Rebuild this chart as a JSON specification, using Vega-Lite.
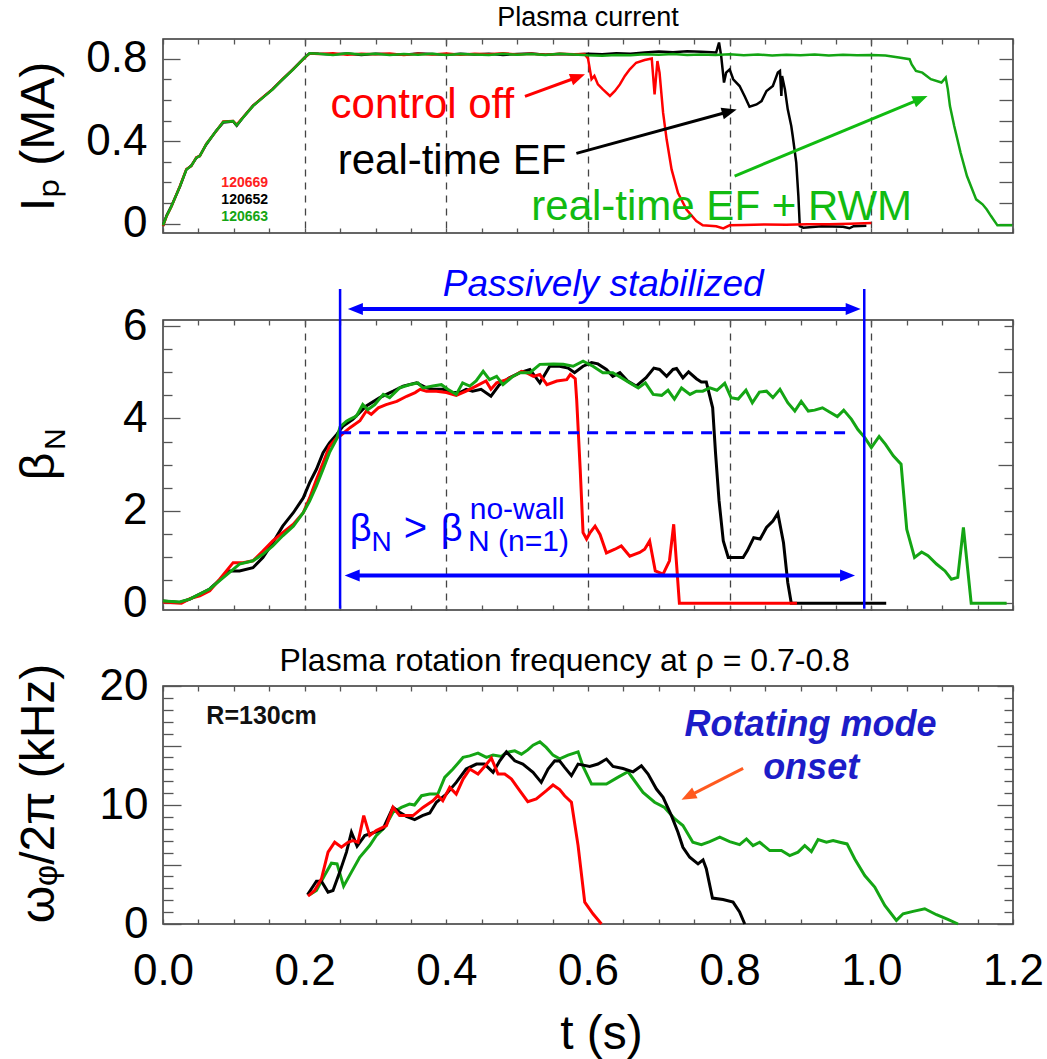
{
  "$schema": "https://vega.github.io/schema/vega-lite/v6.json",
  "autosize": {"type": "none"},
  "padding": {"left": 163, "top": 39, "right": 34, "bottom": 1020},
  "background": "white",
  "config": {
    "font": "Liberation Sans",
    "view": {"stroke": "#333333", "strokeWidth": 1.5},
    "axis": {"domain": false, "grid": false, "tickColor": "#555555", "tickWidth": 1.3, "labelColor": "#000000", "titleColor": "#000000", "titleFontWeight": "normal", "labelOverlap": false, "labelFlush": false, "labelBound": false, "labelFont": "Liberation Sans", "titleFont": "Liberation Sans"},
    "title": {"font": "Liberation Sans", "fontWeight": "normal", "color": "#000000"}
  },
  "datasets": {
    "ip": [
      {"shot": "120652", "t": 0, "ip": -0.01}, {"shot": "120652", "t": 0.005, "ip": 0.04}, {"shot": "120652", "t": 0.012, "ip": 0.087}, {"shot": "120652", "t": 0.024, "ip": 0.18}, {"shot": "120652", "t": 0.033, "ip": 0.262}, {"shot": "120652", "t": 0.04, "ip": 0.282}, {"shot": "120652", "t": 0.047, "ip": 0.318}, {"shot": "120652", "t": 0.052, "ip": 0.33}, {"shot": "120652", "t": 0.061, "ip": 0.383}, {"shot": "120652", "t": 0.075, "ip": 0.45}, {"shot": "120652", "t": 0.085, "ip": 0.49}, {"shot": "120652", "t": 0.099, "ip": 0.495}, {"shot": "120652", "t": 0.104, "ip": 0.475}, {"shot": "120652", "t": 0.113, "ip": 0.515}, {"shot": "120652", "t": 0.127, "ip": 0.572}, {"shot": "120652", "t": 0.141, "ip": 0.612}, {"shot": "120652", "t": 0.155, "ip": 0.653}, {"shot": "120652", "t": 0.169, "ip": 0.7}, {"shot": "120652", "t": 0.184, "ip": 0.75}, {"shot": "120652", "t": 0.2, "ip": 0.806}, {"shot": "120652", "t": 0.207, "ip": 0.826},
      {"shot": "120652", "t": 0.22, "ip": 0.823}, {"shot": "120652", "t": 0.24, "ip": 0.82}, {"shot": "120652", "t": 0.26, "ip": 0.825}, {"shot": "120652", "t": 0.28, "ip": 0.818}, {"shot": "120652", "t": 0.3, "ip": 0.824}, {"shot": "120652", "t": 0.32, "ip": 0.821}, {"shot": "120652", "t": 0.34, "ip": 0.819}, {"shot": "120652", "t": 0.36, "ip": 0.825}, {"shot": "120652", "t": 0.38, "ip": 0.822}, {"shot": "120652", "t": 0.4, "ip": 0.819}, {"shot": "120652", "t": 0.42, "ip": 0.824}, {"shot": "120652", "t": 0.44, "ip": 0.82}, {"shot": "120652", "t": 0.46, "ip": 0.823}, {"shot": "120652", "t": 0.48, "ip": 0.818}, {"shot": "120652", "t": 0.5, "ip": 0.822}, {"shot": "120652", "t": 0.52, "ip": 0.825}, {"shot": "120652", "t": 0.54, "ip": 0.819}, {"shot": "120652", "t": 0.56, "ip": 0.822}, {"shot": "120652", "t": 0.58, "ip": 0.82}, {"shot": "120652", "t": 0.6, "ip": 0.823}, {"shot": "120652", "t": 0.62, "ip": 0.821}, {"shot": "120652", "t": 0.64, "ip": 0.826}, {"shot": "120652", "t": 0.66, "ip": 0.824}, {"shot": "120652", "t": 0.68, "ip": 0.83}, {"shot": "120652", "t": 0.7, "ip": 0.834}, {"shot": "120652", "t": 0.72, "ip": 0.831}, {"shot": "120652", "t": 0.74, "ip": 0.836}, {"shot": "120652", "t": 0.76, "ip": 0.833}, {"shot": "120652", "t": 0.781, "ip": 0.83},
      {"shot": "120652", "t": 0.785, "ip": 0.878}, {"shot": "120652", "t": 0.788, "ip": 0.813}, {"shot": "120652", "t": 0.792, "ip": 0.684}, {"shot": "120652", "t": 0.795, "ip": 0.732}, {"shot": "120652", "t": 0.8, "ip": 0.748}, {"shot": "120652", "t": 0.805, "ip": 0.7}, {"shot": "120652", "t": 0.814, "ip": 0.667}, {"shot": "120652", "t": 0.821, "ip": 0.619}, {"shot": "120652", "t": 0.828, "ip": 0.567}, {"shot": "120652", "t": 0.838, "ip": 0.578}, {"shot": "120652", "t": 0.845, "ip": 0.594}, {"shot": "120652", "t": 0.852, "ip": 0.643}, {"shot": "120652", "t": 0.861, "ip": 0.667}, {"shot": "120652", "t": 0.868, "ip": 0.732}, {"shot": "120652", "t": 0.871, "ip": 0.74}, {"shot": "120652", "t": 0.873, "ip": 0.619}, {"shot": "120652", "t": 0.874, "ip": 0.716}, {"shot": "120652", "t": 0.878, "ip": 0.651}, {"shot": "120652", "t": 0.882, "ip": 0.554}, {"shot": "120652", "t": 0.887, "ip": 0.473}, {"shot": "120652", "t": 0.889, "ip": 0.425}, {"shot": "120652", "t": 0.894, "ip": 0.296}, {"shot": "120652", "t": 0.897, "ip": 0.134}, {"shot": "120652", "t": 0.899, "ip": -0.012}, {"shot": "120652", "t": 0.904, "ip": -0.019}, {"shot": "120652", "t": 0.93, "ip": -0.012}, {"shot": "120652", "t": 0.96, "ip": -0.015}, {"shot": "120652", "t": 0.969, "ip": -0.022}, {"shot": "120652", "t": 0.975, "ip": -0.012}, {"shot": "120652", "t": 0.993, "ip": -0.01},

      {"shot": "120669", "t": 0, "ip": -0.012}, {"shot": "120669", "t": 0.005, "ip": 0.035}, {"shot": "120669", "t": 0.012, "ip": 0.083}, {"shot": "120669", "t": 0.024, "ip": 0.184}, {"shot": "120669", "t": 0.033, "ip": 0.265}, {"shot": "120669", "t": 0.04, "ip": 0.279}, {"shot": "120669", "t": 0.047, "ip": 0.322}, {"shot": "120669", "t": 0.052, "ip": 0.327}, {"shot": "120669", "t": 0.061, "ip": 0.387}, {"shot": "120669", "t": 0.075, "ip": 0.448}, {"shot": "120669", "t": 0.085, "ip": 0.495}, {"shot": "120669", "t": 0.099, "ip": 0.498}, {"shot": "120669", "t": 0.104, "ip": 0.48}, {"shot": "120669", "t": 0.113, "ip": 0.516}, {"shot": "120669", "t": 0.127, "ip": 0.571}, {"shot": "120669", "t": 0.141, "ip": 0.613}, {"shot": "120669", "t": 0.155, "ip": 0.652}, {"shot": "120669", "t": 0.169, "ip": 0.702}, {"shot": "120669", "t": 0.184, "ip": 0.749}, {"shot": "120669", "t": 0.2, "ip": 0.804}, {"shot": "120669", "t": 0.207, "ip": 0.825},
      {"shot": "120669", "t": 0.22, "ip": 0.822}, {"shot": "120669", "t": 0.24, "ip": 0.826}, {"shot": "120669", "t": 0.26, "ip": 0.819}, {"shot": "120669", "t": 0.28, "ip": 0.824}, {"shot": "120669", "t": 0.3, "ip": 0.821}, {"shot": "120669", "t": 0.32, "ip": 0.825}, {"shot": "120669", "t": 0.34, "ip": 0.818}, {"shot": "120669", "t": 0.36, "ip": 0.823}, {"shot": "120669", "t": 0.38, "ip": 0.82}, {"shot": "120669", "t": 0.4, "ip": 0.825}, {"shot": "120669", "t": 0.42, "ip": 0.819}, {"shot": "120669", "t": 0.44, "ip": 0.823}, {"shot": "120669", "t": 0.46, "ip": 0.821}, {"shot": "120669", "t": 0.48, "ip": 0.826}, {"shot": "120669", "t": 0.5, "ip": 0.82}, {"shot": "120669", "t": 0.52, "ip": 0.823}, {"shot": "120669", "t": 0.54, "ip": 0.819}, {"shot": "120669", "t": 0.56, "ip": 0.824}, {"shot": "120669", "t": 0.58, "ip": 0.821}, {"shot": "120669", "t": 0.595, "ip": 0.822},
      {"shot": "120669", "t": 0.6, "ip": 0.8}, {"shot": "120669", "t": 0.605, "ip": 0.7}, {"shot": "120669", "t": 0.609, "ip": 0.716}, {"shot": "120669", "t": 0.614, "ip": 0.675}, {"shot": "120669", "t": 0.621, "ip": 0.651}, {"shot": "120669", "t": 0.631, "ip": 0.619}, {"shot": "120669", "t": 0.638, "ip": 0.643}, {"shot": "120669", "t": 0.645, "ip": 0.675}, {"shot": "120669", "t": 0.652, "ip": 0.716}, {"shot": "120669", "t": 0.659, "ip": 0.748}, {"shot": "120669", "t": 0.668, "ip": 0.78}, {"shot": "120669", "t": 0.68, "ip": 0.793}, {"shot": "120669", "t": 0.69, "ip": 0.8}, {"shot": "120669", "t": 0.694, "ip": 0.627}, {"shot": "120669", "t": 0.698, "ip": 0.788}, {"shot": "120669", "t": 0.701, "ip": 0.732}, {"shot": "120669", "t": 0.706, "ip": 0.538}, {"shot": "120669", "t": 0.711, "ip": 0.409}, {"shot": "120669", "t": 0.718, "ip": 0.263}, {"shot": "120669", "t": 0.727, "ip": 0.15}, {"shot": "120669", "t": 0.739, "ip": 0.069}, {"shot": "120669", "t": 0.753, "ip": 0.013}, {"shot": "120669", "t": 0.762, "ip": -0.008}, {"shot": "120669", "t": 0.781, "ip": -0.012}, {"shot": "120669", "t": 0.791, "ip": -0.023}, {"shot": "120669", "t": 0.8, "ip": -0.008}, {"shot": "120669", "t": 0.82, "ip": -0.006}, {"shot": "120669", "t": 0.85, "ip": -0.004}, {"shot": "120669", "t": 0.88, "ip": -0.005}, {"shot": "120669", "t": 0.91, "ip": -0.003}, {"shot": "120669", "t": 0.94, "ip": -0.002}, {"shot": "120669", "t": 0.97, "ip": 0}, {"shot": "120669", "t": 1.0, "ip": 0.003},

      {"shot": "120663", "t": 0, "ip": -0.008}, {"shot": "120663", "t": 0.005, "ip": 0.036}, {"shot": "120663", "t": 0.012, "ip": 0.085}, {"shot": "120663", "t": 0.024, "ip": 0.182}, {"shot": "120663", "t": 0.033, "ip": 0.263}, {"shot": "120663", "t": 0.04, "ip": 0.28}, {"shot": "120663", "t": 0.047, "ip": 0.32}, {"shot": "120663", "t": 0.052, "ip": 0.328}, {"shot": "120663", "t": 0.061, "ip": 0.385}, {"shot": "120663", "t": 0.075, "ip": 0.449}, {"shot": "120663", "t": 0.085, "ip": 0.493}, {"shot": "120663", "t": 0.099, "ip": 0.497}, {"shot": "120663", "t": 0.104, "ip": 0.477}, {"shot": "120663", "t": 0.113, "ip": 0.514}, {"shot": "120663", "t": 0.127, "ip": 0.57}, {"shot": "120663", "t": 0.141, "ip": 0.611}, {"shot": "120663", "t": 0.155, "ip": 0.651}, {"shot": "120663", "t": 0.169, "ip": 0.7}, {"shot": "120663", "t": 0.184, "ip": 0.748}, {"shot": "120663", "t": 0.2, "ip": 0.805}, {"shot": "120663", "t": 0.207, "ip": 0.826},
      {"shot": "120663", "t": 0.22, "ip": 0.824}, {"shot": "120663", "t": 0.24, "ip": 0.818}, {"shot": "120663", "t": 0.26, "ip": 0.826}, {"shot": "120663", "t": 0.28, "ip": 0.82}, {"shot": "120663", "t": 0.3, "ip": 0.823}, {"shot": "120663", "t": 0.32, "ip": 0.817}, {"shot": "120663", "t": 0.34, "ip": 0.822}, {"shot": "120663", "t": 0.36, "ip": 0.819}, {"shot": "120663", "t": 0.38, "ip": 0.824}, {"shot": "120663", "t": 0.4, "ip": 0.818}, {"shot": "120663", "t": 0.42, "ip": 0.822}, {"shot": "120663", "t": 0.44, "ip": 0.82}, {"shot": "120663", "t": 0.46, "ip": 0.817}, {"shot": "120663", "t": 0.48, "ip": 0.823}, {"shot": "120663", "t": 0.5, "ip": 0.819}, {"shot": "120663", "t": 0.52, "ip": 0.822}, {"shot": "120663", "t": 0.54, "ip": 0.818}, {"shot": "120663", "t": 0.56, "ip": 0.823}, {"shot": "120663", "t": 0.58, "ip": 0.82}, {"shot": "120663", "t": 0.6, "ip": 0.816}, {"shot": "120663", "t": 0.62, "ip": 0.814}, {"shot": "120663", "t": 0.64, "ip": 0.818}, {"shot": "120663", "t": 0.66, "ip": 0.816}, {"shot": "120663", "t": 0.68, "ip": 0.821}, {"shot": "120663", "t": 0.7, "ip": 0.819}, {"shot": "120663", "t": 0.72, "ip": 0.822}, {"shot": "120663", "t": 0.74, "ip": 0.818}, {"shot": "120663", "t": 0.76, "ip": 0.82}, {"shot": "120663", "t": 0.78, "ip": 0.817}, {"shot": "120663", "t": 0.8, "ip": 0.821}, {"shot": "120663", "t": 0.82, "ip": 0.816}, {"shot": "120663", "t": 0.84, "ip": 0.82}, {"shot": "120663", "t": 0.86, "ip": 0.815}, {"shot": "120663", "t": 0.88, "ip": 0.819}, {"shot": "120663", "t": 0.9, "ip": 0.816}, {"shot": "120663", "t": 0.92, "ip": 0.82}, {"shot": "120663", "t": 0.94, "ip": 0.815}, {"shot": "120663", "t": 0.96, "ip": 0.819}, {"shot": "120663", "t": 0.98, "ip": 0.816}, {"shot": "120663", "t": 1.0, "ip": 0.818}, {"shot": "120663", "t": 1.02, "ip": 0.815},
      {"shot": "120663", "t": 1.039, "ip": 0.805}, {"shot": "120663", "t": 1.054, "ip": 0.797}, {"shot": "120663", "t": 1.057, "ip": 0.772}, {"shot": "120663", "t": 1.063, "ip": 0.74}, {"shot": "120663", "t": 1.072, "ip": 0.732}, {"shot": "120663", "t": 1.084, "ip": 0.7}, {"shot": "120663", "t": 1.099, "ip": 0.684}, {"shot": "120663", "t": 1.105, "ip": 0.708}, {"shot": "120663", "t": 1.108, "ip": 0.651}, {"shot": "120663", "t": 1.111, "ip": 0.57}, {"shot": "120663", "t": 1.117, "ip": 0.473}, {"shot": "120663", "t": 1.126, "ip": 0.344}, {"shot": "120663", "t": 1.135, "ip": 0.231}, {"shot": "120663", "t": 1.148, "ip": 0.118}, {"shot": "120663", "t": 1.157, "ip": 0.094}, {"shot": "120663", "t": 1.163, "ip": 0.069}, {"shot": "120663", "t": 1.169, "ip": 0.037}, {"shot": "120663", "t": 1.178, "ip": -0.008}, {"shot": "120663", "t": 1.199, "ip": -0.008}
    ],
    "beta": [
      {"shot": "120652", "t": 0, "bn": 0.05}, {"shot": "120652", "t": 0.0235, "bn": 0.02}, {"shot": "120652", "t": 0.038, "bn": 0.09}, {"shot": "120652", "t": 0.066, "bn": 0.31}, {"shot": "120652", "t": 0.094, "bn": 0.7}, {"shot": "120652", "t": 0.108, "bn": 0.7}, {"shot": "120652", "t": 0.127, "bn": 0.77}, {"shot": "120652", "t": 0.141, "bn": 0.99}, {"shot": "120652", "t": 0.155, "bn": 1.31}, {"shot": "120652", "t": 0.169, "bn": 1.67}, {"shot": "120652", "t": 0.184, "bn": 1.96}, {"shot": "120652", "t": 0.198, "bn": 2.28}, {"shot": "120652", "t": 0.207, "bn": 2.61}, {"shot": "120652", "t": 0.2166, "bn": 2.9}, {"shot": "120652", "t": 0.226, "bn": 3.26}, {"shot": "120652", "t": 0.235, "bn": 3.47}, {"shot": "120652", "t": 0.245, "bn": 3.65}, {"shot": "120652", "t": 0.254, "bn": 3.83}, {"shot": "120652", "t": 0.268, "bn": 3.98}, {"shot": "120652", "t": 0.287, "bn": 4.27}, {"shot": "120652", "t": 0.306, "bn": 4.45}, {"shot": "120652", "t": 0.325, "bn": 4.59}, {"shot": "120652", "t": 0.339, "bn": 4.7}, {"shot": "120652", "t": 0.358, "bn": 4.77}, {"shot": "120652", "t": 0.372, "bn": 4.66}, {"shot": "120652", "t": 0.381, "bn": 4.63}, {"shot": "120652", "t": 0.395, "bn": 4.63}, {"shot": "120652", "t": 0.409, "bn": 4.56}, {"shot": "120652", "t": 0.419, "bn": 4.56}, {"shot": "120652", "t": 0.428, "bn": 4.63}, {"shot": "120652", "t": 0.437, "bn": 4.59}, {"shot": "120652", "t": 0.449, "bn": 4.63}, {"shot": "120652", "t": 0.463, "bn": 4.48}, {"shot": "120652", "t": 0.475, "bn": 4.73}, {"shot": "120652", "t": 0.489, "bn": 4.88}, {"shot": "120652", "t": 0.504, "bn": 4.99}, {"shot": "120652", "t": 0.518, "bn": 5.06}, {"shot": "120652", "t": 0.532, "bn": 4.77}, {"shot": "120652", "t": 0.546, "bn": 5.13}, {"shot": "120652", "t": 0.56, "bn": 5.13}, {"shot": "120652", "t": 0.572, "bn": 5.09}, {"shot": "120652", "t": 0.581, "bn": 4.99}, {"shot": "120652", "t": 0.593, "bn": 5.13}, {"shot": "120652", "t": 0.605, "bn": 5.21}, {"shot": "120652", "t": 0.614, "bn": 5.18}, {"shot": "120652", "t": 0.626, "bn": 5.06}, {"shot": "120652", "t": 0.635, "bn": 4.91}, {"shot": "120652", "t": 0.645, "bn": 4.99}, {"shot": "120652", "t": 0.656, "bn": 4.81}, {"shot": "120652", "t": 0.668, "bn": 4.7}, {"shot": "120652", "t": 0.682, "bn": 4.88}, {"shot": "120652", "t": 0.693, "bn": 5.09}, {"shot": "120652", "t": 0.701, "bn": 5.06}, {"shot": "120652", "t": 0.711, "bn": 4.91}, {"shot": "120652", "t": 0.72, "bn": 5.06}, {"shot": "120652", "t": 0.725, "bn": 5.08}, {"shot": "120652", "t": 0.734, "bn": 4.88}, {"shot": "120652", "t": 0.742, "bn": 5.01}, {"shot": "120652", "t": 0.753, "bn": 4.86}, {"shot": "120652", "t": 0.76, "bn": 4.79}, {"shot": "120652", "t": 0.767, "bn": 4.79}, {"shot": "120652", "t": 0.776, "bn": 4.23}, {"shot": "120652", "t": 0.78, "bn": 3.26}, {"shot": "120652", "t": 0.785, "bn": 2.22}, {"shot": "120652", "t": 0.791, "bn": 1.35}, {"shot": "120652", "t": 0.798, "bn": 0.99}, {"shot": "120652", "t": 0.813, "bn": 0.99}, {"shot": "120652", "t": 0.819, "bn": 0.99}, {"shot": "120652", "t": 0.825, "bn": 1.14}, {"shot": "120652", "t": 0.834, "bn": 1.42}, {"shot": "120652", "t": 0.843, "bn": 1.39}, {"shot": "120652", "t": 0.852, "bn": 1.64}, {"shot": "120652", "t": 0.861, "bn": 1.78}, {"shot": "120652", "t": 0.868, "bn": 1.95}, {"shot": "120652", "t": 0.876, "bn": 1.31}, {"shot": "120652", "t": 0.882, "bn": 0.45}, {"shot": "120652", "t": 0.887, "bn": 0}, {"shot": "120652", "t": 1.021, "bn": 0},

      {"shot": "120669", "t": 0, "bn": 0.03}, {"shot": "120669", "t": 0.026, "bn": 0}, {"shot": "120669", "t": 0.038, "bn": 0.1}, {"shot": "120669", "t": 0.052, "bn": 0.16}, {"shot": "120669", "t": 0.066, "bn": 0.27}, {"shot": "120669", "t": 0.08, "bn": 0.52}, {"shot": "120669", "t": 0.099, "bn": 0.88}, {"shot": "120669", "t": 0.113, "bn": 0.88}, {"shot": "120669", "t": 0.127, "bn": 0.92}, {"shot": "120669", "t": 0.141, "bn": 1.13}, {"shot": "120669", "t": 0.155, "bn": 1.35}, {"shot": "120669", "t": 0.169, "bn": 1.53}, {"shot": "120669", "t": 0.184, "bn": 1.71}, {"shot": "120669", "t": 0.198, "bn": 1.96}, {"shot": "120669", "t": 0.207, "bn": 2.28}, {"shot": "120669", "t": 0.2166, "bn": 2.68}, {"shot": "120669", "t": 0.226, "bn": 3.04}, {"shot": "120669", "t": 0.235, "bn": 3.4}, {"shot": "120669", "t": 0.245, "bn": 3.58}, {"shot": "120669", "t": 0.25, "bn": 3.62}, {"shot": "120669", "t": 0.264, "bn": 3.8}, {"shot": "120669", "t": 0.278, "bn": 3.95}, {"shot": "120669", "t": 0.287, "bn": 4.16}, {"shot": "120669", "t": 0.294, "bn": 4.09}, {"shot": "120669", "t": 0.304, "bn": 4.23}, {"shot": "120669", "t": 0.315, "bn": 4.3}, {"shot": "120669", "t": 0.33, "bn": 4.37}, {"shot": "120669", "t": 0.344, "bn": 4.48}, {"shot": "120669", "t": 0.356, "bn": 4.56}, {"shot": "120669", "t": 0.363, "bn": 4.63}, {"shot": "120669", "t": 0.372, "bn": 4.59}, {"shot": "120669", "t": 0.386, "bn": 4.59}, {"shot": "120669", "t": 0.4, "bn": 4.56}, {"shot": "120669", "t": 0.414, "bn": 4.5}, {"shot": "120669", "t": 0.428, "bn": 4.59}, {"shot": "120669", "t": 0.442, "bn": 4.7}, {"shot": "120669", "t": 0.456, "bn": 4.81}, {"shot": "120669", "t": 0.463, "bn": 4.63}, {"shot": "120669", "t": 0.471, "bn": 4.77}, {"shot": "120669", "t": 0.485, "bn": 4.84}, {"shot": "120669", "t": 0.499, "bn": 4.95}, {"shot": "120669", "t": 0.506, "bn": 5.02}, {"shot": "120669", "t": 0.513, "bn": 4.99}, {"shot": "120669", "t": 0.523, "bn": 4.91}, {"shot": "120669", "t": 0.532, "bn": 4.95}, {"shot": "120669", "t": 0.542, "bn": 4.73}, {"shot": "120669", "t": 0.556, "bn": 4.81}, {"shot": "120669", "t": 0.57, "bn": 4.84}, {"shot": "120669", "t": 0.575, "bn": 4.95}, {"shot": "120669", "t": 0.582, "bn": 4.86}, {"shot": "120669", "t": 0.584, "bn": 4.41}, {"shot": "120669", "t": 0.589, "bn": 2.9}, {"shot": "120669", "t": 0.593, "bn": 1.53}, {"shot": "120669", "t": 0.598, "bn": 1.39}, {"shot": "120669", "t": 0.603, "bn": 1.53}, {"shot": "120669", "t": 0.61, "bn": 1.67}, {"shot": "120669", "t": 0.617, "bn": 1.49}, {"shot": "120669", "t": 0.626, "bn": 1.09}, {"shot": "120669", "t": 0.638, "bn": 1.17}, {"shot": "120669", "t": 0.647, "bn": 1.24}, {"shot": "120669", "t": 0.659, "bn": 1.02}, {"shot": "120669", "t": 0.673, "bn": 1.1}, {"shot": "120669", "t": 0.68, "bn": 1.17}, {"shot": "120669", "t": 0.687, "bn": 1.35}, {"shot": "120669", "t": 0.695, "bn": 0.7}, {"shot": "120669", "t": 0.706, "bn": 0.63}, {"shot": "120669", "t": 0.715, "bn": 0.92}, {"shot": "120669", "t": 0.721, "bn": 1.71}, {"shot": "120669", "t": 0.729, "bn": 0}, {"shot": "120669", "t": 0.895, "bn": 0},

      {"shot": "120663", "t": 0, "bn": 0.05}, {"shot": "120663", "t": 0.0235, "bn": 0.03}, {"shot": "120663", "t": 0.0377, "bn": 0.09}, {"shot": "120663", "t": 0.0518, "bn": 0.2}, {"shot": "120663", "t": 0.066, "bn": 0.31}, {"shot": "120663", "t": 0.08, "bn": 0.49}, {"shot": "120663", "t": 0.094, "bn": 0.67}, {"shot": "120663", "t": 0.108, "bn": 0.85}, {"shot": "120663", "t": 0.127, "bn": 0.92}, {"shot": "120663", "t": 0.141, "bn": 1.06}, {"shot": "120663", "t": 0.155, "bn": 1.24}, {"shot": "120663", "t": 0.169, "bn": 1.46}, {"shot": "120663", "t": 0.184, "bn": 1.67}, {"shot": "120663", "t": 0.198, "bn": 1.96}, {"shot": "120663", "t": 0.207, "bn": 2.21}, {"shot": "120663", "t": 0.2166, "bn": 2.54}, {"shot": "120663", "t": 0.226, "bn": 2.9}, {"shot": "120663", "t": 0.235, "bn": 3.26}, {"shot": "120663", "t": 0.245, "bn": 3.55}, {"shot": "120663", "t": 0.25, "bn": 3.82}, {"shot": "120663", "t": 0.259, "bn": 3.94}, {"shot": "120663", "t": 0.2636, "bn": 3.98}, {"shot": "120663", "t": 0.273, "bn": 4.05}, {"shot": "120663", "t": 0.282, "bn": 4.3}, {"shot": "120663", "t": 0.289, "bn": 4.19}, {"shot": "120663", "t": 0.299, "bn": 4.3}, {"shot": "120663", "t": 0.311, "bn": 4.52}, {"shot": "120663", "t": 0.32, "bn": 4.45}, {"shot": "120663", "t": 0.334, "bn": 4.66}, {"shot": "120663", "t": 0.348, "bn": 4.73}, {"shot": "120663", "t": 0.36, "bn": 4.77}, {"shot": "120663", "t": 0.367, "bn": 4.66}, {"shot": "120663", "t": 0.381, "bn": 4.7}, {"shot": "120663", "t": 0.393, "bn": 4.73}, {"shot": "120663", "t": 0.402, "bn": 4.63}, {"shot": "120663", "t": 0.414, "bn": 4.52}, {"shot": "120663", "t": 0.423, "bn": 4.77}, {"shot": "120663", "t": 0.433, "bn": 4.7}, {"shot": "120663", "t": 0.442, "bn": 4.81}, {"shot": "120663", "t": 0.452, "bn": 5.02}, {"shot": "120663", "t": 0.461, "bn": 4.84}, {"shot": "120663", "t": 0.471, "bn": 4.91}, {"shot": "120663", "t": 0.48, "bn": 4.73}, {"shot": "120663", "t": 0.494, "bn": 4.91}, {"shot": "120663", "t": 0.504, "bn": 4.99}, {"shot": "120663", "t": 0.518, "bn": 4.99}, {"shot": "120663", "t": 0.532, "bn": 5.17}, {"shot": "120663", "t": 0.551, "bn": 5.18}, {"shot": "120663", "t": 0.565, "bn": 5.17}, {"shot": "120663", "t": 0.579, "bn": 5.13}, {"shot": "120663", "t": 0.593, "bn": 5.24}, {"shot": "120663", "t": 0.607, "bn": 5.13}, {"shot": "120663", "t": 0.621, "bn": 4.99}, {"shot": "120663", "t": 0.635, "bn": 4.99}, {"shot": "120663", "t": 0.647, "bn": 4.88}, {"shot": "120663", "t": 0.659, "bn": 4.77}, {"shot": "120663", "t": 0.671, "bn": 4.66}, {"shot": "120663", "t": 0.681, "bn": 4.77}, {"shot": "120663", "t": 0.692, "bn": 4.52}, {"shot": "120663", "t": 0.704, "bn": 4.5}, {"shot": "120663", "t": 0.713, "bn": 4.61}, {"shot": "120663", "t": 0.722, "bn": 4.42}, {"shot": "120663", "t": 0.732, "bn": 4.66}, {"shot": "120663", "t": 0.744, "bn": 4.52}, {"shot": "120663", "t": 0.753, "bn": 4.59}, {"shot": "120663", "t": 0.762, "bn": 4.59}, {"shot": "120663", "t": 0.772, "bn": 4.66}, {"shot": "120663", "t": 0.782, "bn": 4.61}, {"shot": "120663", "t": 0.793, "bn": 4.76}, {"shot": "120663", "t": 0.802, "bn": 4.45}, {"shot": "120663", "t": 0.812, "bn": 4.42}, {"shot": "120663", "t": 0.823, "bn": 4.61}, {"shot": "120663", "t": 0.832, "bn": 4.34}, {"shot": "120663", "t": 0.842, "bn": 4.57}, {"shot": "120663", "t": 0.852, "bn": 4.59}, {"shot": "120663", "t": 0.861, "bn": 4.45}, {"shot": "120663", "t": 0.871, "bn": 4.63}, {"shot": "120663", "t": 0.882, "bn": 4.34}, {"shot": "120663", "t": 0.892, "bn": 4.16}, {"shot": "120663", "t": 0.901, "bn": 4.37}, {"shot": "120663", "t": 0.911, "bn": 4.16}, {"shot": "120663", "t": 0.92, "bn": 4.18}, {"shot": "120663", "t": 0.931, "bn": 4.23}, {"shot": "120663", "t": 0.941, "bn": 4.14}, {"shot": "120663", "t": 0.952, "bn": 4.04}, {"shot": "120663", "t": 0.961, "bn": 4.18}, {"shot": "120663", "t": 0.972, "bn": 3.98}, {"shot": "120663", "t": 0.981, "bn": 3.76}, {"shot": "120663", "t": 0.991, "bn": 3.58}, {"shot": "120663", "t": 1.0, "bn": 3.37}, {"shot": "120663", "t": 1.011, "bn": 3.61}, {"shot": "120663", "t": 1.02, "bn": 3.44}, {"shot": "120663", "t": 1.031, "bn": 3.19}, {"shot": "120663", "t": 1.042, "bn": 3.01}, {"shot": "120663", "t": 1.05, "bn": 1.6}, {"shot": "120663", "t": 1.061, "bn": 0.99}, {"shot": "120663", "t": 1.071, "bn": 1.11}, {"shot": "120663", "t": 1.08, "bn": 1.03}, {"shot": "120663", "t": 1.092, "bn": 0.85}, {"shot": "120663", "t": 1.104, "bn": 0.7}, {"shot": "120663", "t": 1.113, "bn": 0.52}, {"shot": "120663", "t": 1.122, "bn": 0.56}, {"shot": "120663", "t": 1.13, "bn": 1.64}, {"shot": "120663", "t": 1.141, "bn": 0}, {"shot": "120663", "t": 1.191, "bn": 0}
    ],
    "freq": [
      {"shot": "120663", "t": 0.207, "f": 2.46}, {"shot": "120663", "t": 0.2166, "f": 2.82}, {"shot": "120663", "t": 0.228, "f": 4.07}, {"shot": "120663", "t": 0.2378, "f": 5.11}, {"shot": "120663", "t": 0.2457, "f": 5.05}, {"shot": "120663", "t": 0.255, "f": 3.18}, {"shot": "120663", "t": 0.266, "f": 4.36}, {"shot": "120663", "t": 0.2777, "f": 5.61}, {"shot": "120663", "t": 0.2918, "f": 6.59}, {"shot": "120663", "t": 0.301, "f": 7.43}, {"shot": "120663", "t": 0.313, "f": 8.13}, {"shot": "120663", "t": 0.3247, "f": 9.39}, {"shot": "120663", "t": 0.3366, "f": 9.8}, {"shot": "120663", "t": 0.348, "f": 10.08}, {"shot": "120663", "t": 0.355, "f": 10.0}, {"shot": "120663", "t": 0.365, "f": 10.78}, {"shot": "120663", "t": 0.3766, "f": 10.92}, {"shot": "120663", "t": 0.388, "f": 10.92}, {"shot": "120663", "t": 0.3977, "f": 12.32}, {"shot": "120663", "t": 0.4094, "f": 13.02}, {"shot": "120663", "t": 0.4236, "f": 14.0}, {"shot": "120663", "t": 0.433, "f": 14.13}, {"shot": "120663", "t": 0.4447, "f": 14.36}, {"shot": "120663", "t": 0.4566, "f": 14.0}, {"shot": "120663", "t": 0.466, "f": 14.19}, {"shot": "120663", "t": 0.4778, "f": 14.08}, {"shot": "120663", "t": 0.4848, "f": 14.42}, {"shot": "120663", "t": 0.4966, "f": 14.55}, {"shot": "120663", "t": 0.506, "f": 14.27}, {"shot": "120663", "t": 0.515, "f": 14.63}, {"shot": "120663", "t": 0.5224, "f": 15.03}, {"shot": "120663", "t": 0.532, "f": 15.31}, {"shot": "120663", "t": 0.541, "f": 14.84}, {"shot": "120663", "t": 0.5506, "f": 14.19}, {"shot": "120663", "t": 0.56, "f": 13.88}, {"shot": "120663", "t": 0.5718, "f": 14.19}, {"shot": "120663", "t": 0.586, "f": 14.47}, {"shot": "120663", "t": 0.593, "f": 13.24}, {"shot": "120663", "t": 0.605, "f": 11.76}, {"shot": "120663", "t": 0.626, "f": 11.76}, {"shot": "120663", "t": 0.642, "f": 12.32}, {"shot": "120663", "t": 0.6565, "f": 12.79}, {"shot": "120663", "t": 0.6777, "f": 11.06}, {"shot": "120663", "t": 0.694, "f": 10.23}, {"shot": "120663", "t": 0.708, "f": 9.8}, {"shot": "120663", "t": 0.7225, "f": 8.83}, {"shot": "120663", "t": 0.734, "f": 8.27}, {"shot": "120663", "t": 0.748, "f": 6.87}, {"shot": "120663", "t": 0.76, "f": 6.67}, {"shot": "120663", "t": 0.7719, "f": 6.92}, {"shot": "120663", "t": 0.786, "f": 7.29}, {"shot": "120663", "t": 0.8, "f": 6.92}, {"shot": "120663", "t": 0.814, "f": 6.67}, {"shot": "120663", "t": 0.8237, "f": 7.15}, {"shot": "120663", "t": 0.833, "f": 6.59}, {"shot": "120663", "t": 0.8424, "f": 6.87}, {"shot": "120663", "t": 0.8566, "f": 6.17}, {"shot": "120663", "t": 0.873, "f": 6.17}, {"shot": "120663", "t": 0.8848, "f": 5.75}, {"shot": "120663", "t": 0.8965, "f": 6.04}, {"shot": "120663", "t": 0.906, "f": 6.59}, {"shot": "120663", "t": 0.9154, "f": 6.09}, {"shot": "120663", "t": 0.9248, "f": 7.09}, {"shot": "120663", "t": 0.9366, "f": 6.87}, {"shot": "120663", "t": 0.946, "f": 7.01}, {"shot": "120663", "t": 0.9554, "f": 6.87}, {"shot": "120663", "t": 0.9657, "f": 6.73}, {"shot": "120663", "t": 0.9766, "f": 5.47}, {"shot": "120663", "t": 0.9907, "f": 4.07}, {"shot": "120663", "t": 1.0048, "f": 3.1}, {"shot": "120663", "t": 1.019, "f": 1.56}, {"shot": "120663", "t": 1.0354, "f": 0.3}, {"shot": "120663", "t": 1.0448, "f": 0.86}, {"shot": "120663", "t": 1.059, "f": 1.06}, {"shot": "120663", "t": 1.0754, "f": 1.28}, {"shot": "120663", "t": 1.092, "f": 0.78}, {"shot": "120663", "t": 1.108, "f": 0.39}, {"shot": "120663", "t": 1.1224, "f": 0},

      {"shot": "120652", "t": 0.204, "f": 2.46}, {"shot": "120652", "t": 0.2166, "f": 3.6}, {"shot": "120652", "t": 0.2237, "f": 3.6}, {"shot": "120652", "t": 0.233, "f": 2.68}, {"shot": "120652", "t": 0.24, "f": 2.82}, {"shot": "120652", "t": 0.2495, "f": 4.36}, {"shot": "120652", "t": 0.259, "f": 6.04}, {"shot": "120652", "t": 0.266, "f": 7.71}, {"shot": "120652", "t": 0.274, "f": 6.54}, {"shot": "120652", "t": 0.2848, "f": 7.43}, {"shot": "120652", "t": 0.2989, "f": 7.71}, {"shot": "120652", "t": 0.3106, "f": 7.99}, {"shot": "120652", "t": 0.3247, "f": 9.8}, {"shot": "120652", "t": 0.334, "f": 9.39}, {"shot": "120652", "t": 0.3436, "f": 9.05}, {"shot": "120652", "t": 0.3553, "f": 8.77}, {"shot": "120652", "t": 0.3662, "f": 9.11}, {"shot": "120652", "t": 0.3766, "f": 9.33}, {"shot": "120652", "t": 0.386, "f": 10.23}, {"shot": "120652", "t": 0.4, "f": 10.92}, {"shot": "120652", "t": 0.414, "f": 11.9}, {"shot": "120652", "t": 0.428, "f": 13.02}, {"shot": "120652", "t": 0.4425, "f": 13.44}, {"shot": "120652", "t": 0.454, "f": 13.44}, {"shot": "120652", "t": 0.466, "f": 12.74}, {"shot": "120652", "t": 0.4754, "f": 13.71}, {"shot": "120652", "t": 0.4848, "f": 14.47}, {"shot": "120652", "t": 0.4966, "f": 13.71}, {"shot": "120652", "t": 0.508, "f": 13.44}, {"shot": "120652", "t": 0.5224, "f": 12.74}, {"shot": "120652", "t": 0.534, "f": 11.9}, {"shot": "120652", "t": 0.5436, "f": 13.02}, {"shot": "120652", "t": 0.553, "f": 13.71}, {"shot": "120652", "t": 0.56, "f": 13.7}, {"shot": "120652", "t": 0.567, "f": 13.16}, {"shot": "120652", "t": 0.5766, "f": 12.46}, {"shot": "120652", "t": 0.586, "f": 13.44}, {"shot": "120652", "t": 0.6024, "f": 13.24}, {"shot": "120652", "t": 0.614, "f": 13.44}, {"shot": "120652", "t": 0.626, "f": 13.86}, {"shot": "120652", "t": 0.6353, "f": 13.24}, {"shot": "120652", "t": 0.6494, "f": 13.07}, {"shot": "120652", "t": 0.6636, "f": 12.79}, {"shot": "120652", "t": 0.6754, "f": 13.3}, {"shot": "120652", "t": 0.6848, "f": 12.6}, {"shot": "120652", "t": 0.6966, "f": 11.34}, {"shot": "120652", "t": 0.706, "f": 10.64}, {"shot": "120652", "t": 0.7178, "f": 9.11}, {"shot": "120652", "t": 0.727, "f": 7.71}, {"shot": "120652", "t": 0.734, "f": 6.45}, {"shot": "120652", "t": 0.7436, "f": 5.61}, {"shot": "120652", "t": 0.7553, "f": 5.05}, {"shot": "120652", "t": 0.7624, "f": 5.39}, {"shot": "120652", "t": 0.767, "f": 4.64}, {"shot": "120652", "t": 0.7757, "f": 2.18}, {"shot": "120652", "t": 0.7906, "f": 2.06}, {"shot": "120652", "t": 0.8048, "f": 1.84}, {"shot": "120652", "t": 0.814, "f": 1.01}, {"shot": "120652", "t": 0.8213, "f": 0},

      {"shot": "120669", "t": 0.2047, "f": 2.35}, {"shot": "120669", "t": 0.214, "f": 2.82}, {"shot": "120669", "t": 0.2237, "f": 3.8}, {"shot": "120669", "t": 0.233, "f": 6.04}, {"shot": "120669", "t": 0.2424, "f": 6.87}, {"shot": "120669", "t": 0.2519, "f": 6.45}, {"shot": "120669", "t": 0.2612, "f": 6.87}, {"shot": "120669", "t": 0.268, "f": 7.01}, {"shot": "120669", "t": 0.2753, "f": 6.87}, {"shot": "120669", "t": 0.2834, "f": 9.11}, {"shot": "120669", "t": 0.2918, "f": 7.43}, {"shot": "120669", "t": 0.301, "f": 7.85}, {"shot": "120669", "t": 0.3154, "f": 8.27}, {"shot": "120669", "t": 0.3247, "f": 9.8}, {"shot": "120669", "t": 0.334, "f": 9.11}, {"shot": "120669", "t": 0.353, "f": 9.11}, {"shot": "120669", "t": 0.367, "f": 9.8}, {"shot": "120669", "t": 0.381, "f": 10.36}, {"shot": "120669", "t": 0.388, "f": 10.78}, {"shot": "120669", "t": 0.395, "f": 10.36}, {"shot": "120669", "t": 0.4048, "f": 11.48}, {"shot": "120669", "t": 0.414, "f": 10.92}, {"shot": "120669", "t": 0.4236, "f": 12.18}, {"shot": "120669", "t": 0.433, "f": 13.02}, {"shot": "120669", "t": 0.4447, "f": 12.6}, {"shot": "120669", "t": 0.454, "f": 13.24}, {"shot": "120669", "t": 0.4636, "f": 13.94}, {"shot": "120669", "t": 0.473, "f": 12.6}, {"shot": "120669", "t": 0.4824, "f": 12.6}, {"shot": "120669", "t": 0.492, "f": 12.18}, {"shot": "120669", "t": 0.5036, "f": 11.2}, {"shot": "120669", "t": 0.515, "f": 10.28}, {"shot": "120669", "t": 0.527, "f": 10.51}, {"shot": "120669", "t": 0.5413, "f": 11.2}, {"shot": "120669", "t": 0.5506, "f": 11.68}, {"shot": "120669", "t": 0.56, "f": 11.3}, {"shot": "120669", "t": 0.567, "f": 10.78}, {"shot": "120669", "t": 0.5766, "f": 10.23}, {"shot": "120669", "t": 0.586, "f": 6.59}, {"shot": "120669", "t": 0.5954, "f": 1.84}, {"shot": "120669", "t": 0.607, "f": 0.86}, {"shot": "120669", "t": 0.619, "f": 0}
    ]
  },
  "bounds": "flush",
  "spacing": 87,
  "vconcat": [
    {
      "width": 850,
      "height": 194,
      "title": {"text": "Plasma current", "fontSize": 27, "offset": 5},
      "resolve": {"axis": {"x": "independent", "y": "independent"}},
      "layer": [
        {
          "data": {"name": "ip"},
          "transform": [{"filter": "datum.shot === '120652'"}],
          "mark": {"type": "line", "color": "#000000", "strokeWidth": 2.5},
          "encoding": {
            "x": {"field": "t", "type": "quantitative", "scale": {"domain": [0, 1.2], "nice": false, "zero": false},
              "axis": {"orient": "bottom", "values": [0, 0.05, 0.1, 0.15, 0.2, 0.25, 0.3, 0.35, 0.4, 0.45, 0.5, 0.55, 0.6, 0.65, 0.7, 0.75, 0.8, 0.85, 0.9, 0.95, 1, 1.05, 1.1, 1.15, 1.2], "labels": false, "title": null, "tickSize": -5,
                "grid": true, "gridDash": [7, 6], "gridColor": "#444444", "gridWidth": 1.3,
                "gridOpacity": {"condition": {"test": "datum.value > 0.1 && datum.value < 1.1 && abs(datum.value * 5 - round(datum.value * 5)) < 0.001", "value": 1}, "value": 0}}},
            "y": {"field": "ip", "type": "quantitative", "scale": {"domain": [-0.045, 0.895], "nice": false, "zero": false},
              "axis": {"orient": "left", "values": [0, 0.1, 0.2, 0.3, 0.4, 0.5, 0.6, 0.7, 0.8],
                "labelExpr": "datum.value == 0 ? '0' : (datum.value == 0.4 || datum.value == 0.8) ? format(datum.value, '.1f') : ''",
                "tickSize": {"condition": {"test": "datum.value == 0 || datum.value == 0.4 || datum.value == 0.8", "value": -17}, "value": -8},
                "labelFontSize": 44, "labelPadding": 33,
                "title": "Iₚ (MA)", "titleFontSize": 48, "titleAngle": 270, "titleX": -110, "titleY": 97, "titleBaseline": "alphabetic", "titleAlign": "center"}}
          }
        },
        {
          "data": {"name": "ip"},
          "transform": [{"filter": "datum.shot === '120669'"}],
          "mark": {"type": "line", "color": "#FF0000", "strokeWidth": 2.5},
          "encoding": {
            "x": {"field": "t", "type": "quantitative", "scale": {"domain": [0, 1.2], "nice": false, "zero": false},
              "axis": {"orient": "top", "values": [0, 0.05, 0.1, 0.15, 0.2, 0.25, 0.3, 0.35, 0.4, 0.45, 0.5, 0.55, 0.6, 0.65, 0.7, 0.75, 0.8, 0.85, 0.9, 0.95, 1, 1.05, 1.1, 1.15, 1.2], "labels": false, "title": null, "tickSize": -5}},
            "y": {"field": "ip", "type": "quantitative", "scale": {"domain": [-0.045, 0.895], "nice": false, "zero": false},
              "axis": {"orient": "right", "values": [0, 0.1, 0.2, 0.3, 0.4, 0.5, 0.6, 0.7, 0.8], "labels": false, "title": null, "tickSize": -14}}
          }
        },
        {
          "data": {"name": "ip"},
          "transform": [{"filter": "datum.shot === '120663'"}],
          "mark": {"type": "line", "color": "#14A514", "strokeWidth": 2.5},
          "encoding": {
            "x": {"field": "t", "type": "quantitative", "scale": {"domain": [0, 1.2], "nice": false, "zero": false}, "axis": null},
            "y": {"field": "ip", "type": "quantitative", "scale": {"domain": [-0.045, 0.895], "nice": false, "zero": false}, "axis": null}
          }
        },
        {
          "data": {"values": [{}]},
          "mark": {"type": "text", "text": "120669", "color": "#FF2020", "fontSize": 14, "fontWeight": "bold", "align": "left", "baseline": "middle"},
          "encoding": {
            "x": {"datum": 0.0824, "type": "quantitative", "scale": {"domain": [0, 1.2], "nice": false, "zero": false}, "axis": null},
            "y": {"datum": 0.199, "type": "quantitative", "scale": {"domain": [-0.045, 0.895], "nice": false, "zero": false}, "axis": null}
          }
        },
        {
          "data": {"values": [{}]},
          "mark": {"type": "text", "text": "120652", "color": "#000000", "fontSize": 14, "fontWeight": "bold", "align": "left", "baseline": "middle"},
          "encoding": {
            "x": {"datum": 0.0824, "type": "quantitative", "scale": {"domain": [0, 1.2], "nice": false, "zero": false}, "axis": null},
            "y": {"datum": 0.115, "type": "quantitative", "scale": {"domain": [-0.045, 0.895], "nice": false, "zero": false}, "axis": null}
          }
        },
        {
          "data": {"values": [{}]},
          "mark": {"type": "text", "text": "120663", "color": "#14A514", "fontSize": 14, "fontWeight": "bold", "align": "left", "baseline": "middle"},
          "encoding": {
            "x": {"datum": 0.0824, "type": "quantitative", "scale": {"domain": [0, 1.2], "nice": false, "zero": false}, "axis": null},
            "y": {"datum": 0.034, "type": "quantitative", "scale": {"domain": [-0.045, 0.895], "nice": false, "zero": false}, "axis": null}
          }
        },
        {
          "data": {"values": [{}]},
          "mark": {"type": "text", "text": "control off", "color": "#FF0000", "fontSize": 42, "align": "left", "baseline": "alphabetic"},
          "encoding": {
            "x": {"datum": 0.2365, "type": "quantitative", "scale": {"domain": [0, 1.2], "nice": false, "zero": false}, "axis": null},
            "y": {"datum": 0.514, "type": "quantitative", "scale": {"domain": [-0.045, 0.895], "nice": false, "zero": false}, "axis": null}
          }
        },
        {
          "data": {"values": [{}]},
          "mark": {"type": "text", "text": "real-time EF", "color": "#000000", "fontSize": 42, "align": "left", "baseline": "alphabetic"},
          "encoding": {
            "x": {"datum": 0.2466, "type": "quantitative", "scale": {"domain": [0, 1.2], "nice": false, "zero": false}, "axis": null},
            "y": {"datum": 0.239, "type": "quantitative", "scale": {"domain": [-0.045, 0.895], "nice": false, "zero": false}, "axis": null}
          }
        },
        {
          "data": {"values": [{}]},
          "mark": {"type": "text", "text": "real-time EF + RWM", "color": "#11BB11", "fontSize": 42, "align": "left", "baseline": "alphabetic"},
          "encoding": {
            "x": {"datum": 0.52, "type": "quantitative", "scale": {"domain": [0, 1.2], "nice": false, "zero": false}, "axis": null},
            "y": {"datum": 0.02, "type": "quantitative", "scale": {"domain": [-0.045, 0.895], "nice": false, "zero": false}, "axis": null}
          }
        },
        {
          "data": {"values": [{}]},
          "mark": {"type": "rule", "color": "#FF0000", "strokeWidth": 3},
          "encoding": {
            "x": {"datum": 0.511, "type": "quantitative", "scale": {"domain": [0, 1.2], "nice": false, "zero": false}, "axis": null},
            "y": {"datum": 0.617, "type": "quantitative", "scale": {"domain": [-0.045, 0.895], "nice": false, "zero": false}, "axis": null},
            "x2": {"datum": 0.5859},
            "y2": {"datum": 0.711}
          }
        },
        {
          "data": {"values": [{}]},
          "mark": {"type": "point", "shape": "M1,0L-1,-0.8L-1,0.8Z", "filled": true, "opacity": 1, "color": "#FF0000", "size": 225, "angle": 339.4},
          "encoding": {
            "x": {"datum": 0.5859, "type": "quantitative", "scale": {"domain": [0, 1.2], "nice": false, "zero": false}, "axis": null},
            "y": {"datum": 0.711, "type": "quantitative", "scale": {"domain": [-0.045, 0.895], "nice": false, "zero": false}, "axis": null}
          }
        },
        {
          "data": {"values": [{}]},
          "mark": {"type": "rule", "color": "#000000", "strokeWidth": 3},
          "encoding": {
            "x": {"datum": 0.5836, "type": "quantitative", "scale": {"domain": [0, 1.2], "nice": false, "zero": false}, "axis": null},
            "y": {"datum": 0.341, "type": "quantitative", "scale": {"domain": [-0.045, 0.895], "nice": false, "zero": false}, "axis": null},
            "x2": {"datum": 0.7997},
            "y2": {"datum": 0.544}
          }
        },
        {
          "data": {"values": [{}]},
          "mark": {"type": "point", "shape": "M1,0L-1,-0.8L-1,0.8Z", "filled": true, "opacity": 1, "color": "#000000", "size": 225, "angle": 344.7},
          "encoding": {
            "x": {"datum": 0.7997, "type": "quantitative", "scale": {"domain": [0, 1.2], "nice": false, "zero": false}, "axis": null},
            "y": {"datum": 0.544, "type": "quantitative", "scale": {"domain": [-0.045, 0.895], "nice": false, "zero": false}, "axis": null}
          }
        },
        {
          "data": {"values": [{}]},
          "mark": {"type": "rule", "color": "#11BB11", "strokeWidth": 3},
          "encoding": {
            "x": {"datum": 0.807, "type": "quantitative", "scale": {"domain": [0, 1.2], "nice": false, "zero": false}, "axis": null},
            "y": {"datum": 0.231, "type": "quantitative", "scale": {"domain": [-0.045, 0.895], "nice": false, "zero": false}, "axis": null},
            "x2": {"datum": 1.0696},
            "y2": {"datum": 0.605}
          }
        },
        {
          "data": {"values": [{}]},
          "mark": {"type": "point", "shape": "M1,0L-1,-0.8L-1,0.8Z", "filled": true, "opacity": 1, "color": "#11BB11", "size": 225, "angle": 337.3},
          "encoding": {
            "x": {"datum": 1.0696, "type": "quantitative", "scale": {"domain": [0, 1.2], "nice": false, "zero": false}, "axis": null},
            "y": {"datum": 0.605, "type": "quantitative", "scale": {"domain": [-0.045, 0.895], "nice": false, "zero": false}, "axis": null}
          }
        }
      ]
    },
    {
      "bounds": "flush",
      "spacing": 76,
      "vconcat": [
        {
          "width": 850,
          "height": 290,
          "resolve": {"axis": {"x": "independent", "y": "independent"}},
          "layer": [
            {
              "data": {"name": "beta"},
              "transform": [{"filter": "datum.shot === '120652'"}],
              "mark": {"type": "line", "color": "#000000", "strokeWidth": 3},
              "encoding": {
                "x": {"field": "t", "type": "quantitative", "scale": {"domain": [0, 1.2], "nice": false, "zero": false},
                  "axis": {"orient": "bottom", "values": [0, 0.05, 0.1, 0.15, 0.2, 0.25, 0.3, 0.35, 0.4, 0.45, 0.5, 0.55, 0.6, 0.65, 0.7, 0.75, 0.8, 0.85, 0.9, 0.95, 1, 1.05, 1.1, 1.15, 1.2], "labels": false, "title": null, "tickSize": -5,
                    "grid": true, "gridDash": [7, 6], "gridColor": "#444444", "gridWidth": 1.3,
                    "gridOpacity": {"condition": {"test": "datum.value > 0.1 && datum.value < 1.1 && abs(datum.value * 5 - round(datum.value * 5)) < 0.001", "value": 1}, "value": 0}}},
                "y": {"field": "bn", "type": "quantitative", "scale": {"domain": [-0.145, 6.13], "nice": false, "zero": false},
                  "axis": {"orient": "left", "values": [0, 0.5, 1, 1.5, 2, 2.5, 3, 3.5, 4, 4.5, 5, 5.5, 6],
                    "labelExpr": "datum.value % 2 == 0 ? format(datum.value, 'd') : ''",
                    "tickSize": {"condition": {"test": "datum.value % 2 == 0", "value": -17}, "value": -9},
                    "labelFontSize": 44, "labelPadding": 33,
                    "title": "β", "titleFontSize": 48, "titleAngle": 270, "titleX": -110, "titleY": 146, "titleBaseline": "alphabetic", "titleAlign": "center"}}
              }
            },
            {
              "data": {"name": "beta"},
              "transform": [{"filter": "datum.shot === '120669'"}],
              "mark": {"type": "line", "color": "#FF0000", "strokeWidth": 3},
              "encoding": {
                "x": {"field": "t", "type": "quantitative", "scale": {"domain": [0, 1.2], "nice": false, "zero": false},
                  "axis": {"orient": "top", "values": [0, 0.05, 0.1, 0.15, 0.2, 0.25, 0.3, 0.35, 0.4, 0.45, 0.5, 0.55, 0.6, 0.65, 0.7, 0.75, 0.8, 0.85, 0.9, 0.95, 1, 1.05, 1.1, 1.15, 1.2], "labels": false, "title": null, "tickSize": -5}},
                "y": {"field": "bn", "type": "quantitative", "scale": {"domain": [-0.145, 6.13], "nice": false, "zero": false},
                  "axis": {"orient": "right", "values": [0, 0.5, 1, 1.5, 2, 2.5, 3, 3.5, 4, 4.5, 5, 5.5, 6], "labels": false, "title": null,
                    "tickSize": {"condition": {"test": "datum.value % 2 == 1", "value": -15}, "value": -9}}}
              }
            },
            {
              "data": {"name": "beta"},
              "transform": [{"filter": "datum.shot === '120663'"}],
              "mark": {"type": "line", "color": "#14A514", "strokeWidth": 3},
              "encoding": {
                "x": {"field": "t", "type": "quantitative", "scale": {"domain": [0, 1.2], "nice": false, "zero": false}, "axis": null},
                "y": {"field": "bn", "type": "quantitative", "scale": {"domain": [-0.145, 6.13], "nice": false, "zero": false}, "axis": null}
              }
            },
            {
              "data": {"values": [{}]},
              "mark": {"type": "text", "text": "N", "color": "#000000", "fontSize": 30, "angle": 270, "align": "center", "baseline": "alphabetic", "dy": -98},
              "encoding": {
                "x": {"datum": 0, "type": "quantitative", "scale": {"domain": [0, 1.2], "nice": false, "zero": false}, "axis": null},
                "y": {"datum": 3.55, "type": "quantitative", "scale": {"domain": [-0.145, 6.13], "nice": false, "zero": false}, "axis": null}
              }
            },
            {
              "data": {"values": [{}]},
              "mark": {"type": "rule", "color": "#0000FF", "strokeWidth": 2.5},
              "encoding": {
                "x": {"datum": 0.25, "type": "quantitative", "scale": {"domain": [0, 1.2], "nice": false, "zero": false}, "axis": null},
                "y": {"datum": -0.12, "type": "quantitative", "scale": {"domain": [-0.145, 6.13], "nice": false, "zero": false}, "axis": null},
                "y2": {"datum": 6.8}
              }
            },
            {
              "data": {"values": [{}]},
              "mark": {"type": "rule", "color": "#0000FF", "strokeWidth": 2.5},
              "encoding": {
                "x": {"datum": 0.99, "type": "quantitative", "scale": {"domain": [0, 1.2], "nice": false, "zero": false}, "axis": null},
                "y": {"datum": -0.12, "type": "quantitative", "scale": {"domain": [-0.145, 6.13], "nice": false, "zero": false}, "axis": null},
                "y2": {"datum": 6.8}
              }
            },
            {
              "data": {"values": [{}]},
              "mark": {"type": "rule", "color": "#0000FF", "strokeWidth": 3, "strokeDash": [11, 8]},
              "encoding": {
                "x": {"datum": 0.25, "type": "quantitative", "scale": {"domain": [0, 1.2], "nice": false, "zero": false}, "axis": null},
                "x2": {"datum": 0.974},
                "y": {"datum": 3.69, "type": "quantitative", "scale": {"domain": [-0.145, 6.13], "nice": false, "zero": false}, "axis": null}
              }
            },
            {
              "data": {"values": [{}]},
              "mark": {"type": "rule", "color": "#0000FF", "strokeWidth": 4},
              "encoding": {
                "x": {"datum": 0.2716, "type": "quantitative", "scale": {"domain": [0, 1.2], "nice": false, "zero": false}, "axis": null},
                "x2": {"datum": 0.9744},
                "y": {"datum": 6.37, "type": "quantitative", "scale": {"domain": [-0.145, 6.13], "nice": false, "zero": false}, "axis": null}
              }
            },
            {
              "data": {"values": [{}]},
              "mark": {"type": "point", "shape": "M1,0L-1,-0.8L-1,0.8Z", "filled": true, "opacity": 1, "color": "#0000FF", "size": 225, "angle": 180},
              "encoding": {
                "x": {"datum": 0.2716, "type": "quantitative", "scale": {"domain": [0, 1.2], "nice": false, "zero": false}, "axis": null},
                "y": {"datum": 6.37, "type": "quantitative", "scale": {"domain": [-0.145, 6.13], "nice": false, "zero": false}, "axis": null}
              }
            },
            {
              "data": {"values": [{}]},
              "mark": {"type": "point", "shape": "M1,0L-1,-0.8L-1,0.8Z", "filled": true, "opacity": 1, "color": "#0000FF", "size": 225, "angle": 0},
              "encoding": {
                "x": {"datum": 0.9744, "type": "quantitative", "scale": {"domain": [0, 1.2], "nice": false, "zero": false}, "axis": null},
                "y": {"datum": 6.37, "type": "quantitative", "scale": {"domain": [-0.145, 6.13], "nice": false, "zero": false}, "axis": null}
              }
            },
            {
              "data": {"values": [{}]},
              "mark": {"type": "rule", "color": "#0000FF", "strokeWidth": 4},
              "encoding": {
                "x": {"datum": 0.2671, "type": "quantitative", "scale": {"domain": [0, 1.2], "nice": false, "zero": false}, "axis": null},
                "x2": {"datum": 0.9664},
                "y": {"datum": 0.6, "type": "quantitative", "scale": {"domain": [-0.145, 6.13], "nice": false, "zero": false}, "axis": null}
              }
            },
            {
              "data": {"values": [{}]},
              "mark": {"type": "point", "shape": "M1,0L-1,-0.8L-1,0.8Z", "filled": true, "opacity": 1, "color": "#0000FF", "size": 225, "angle": 180},
              "encoding": {
                "x": {"datum": 0.2671, "type": "quantitative", "scale": {"domain": [0, 1.2], "nice": false, "zero": false}, "axis": null},
                "y": {"datum": 0.6, "type": "quantitative", "scale": {"domain": [-0.145, 6.13], "nice": false, "zero": false}, "axis": null}
              }
            },
            {
              "data": {"values": [{}]},
              "mark": {"type": "point", "shape": "M1,0L-1,-0.8L-1,0.8Z", "filled": true, "opacity": 1, "color": "#0000FF", "size": 225, "angle": 0},
              "encoding": {
                "x": {"datum": 0.9664, "type": "quantitative", "scale": {"domain": [0, 1.2], "nice": false, "zero": false}, "axis": null},
                "y": {"datum": 0.6, "type": "quantitative", "scale": {"domain": [-0.145, 6.13], "nice": false, "zero": false}, "axis": null}
              }
            },
            {
              "data": {"values": [{}]},
              "mark": {"type": "text", "text": "Passively stabilized", "color": "#0000FF", "fontSize": 37, "fontStyle": "italic", "align": "center", "baseline": "alphabetic"},
              "encoding": {
                "x": {"datum": 0.6215, "type": "quantitative", "scale": {"domain": [0, 1.2], "nice": false, "zero": false}, "axis": null},
                "y": {"datum": 6.65, "type": "quantitative", "scale": {"domain": [-0.145, 6.13], "nice": false, "zero": false}, "axis": null}
              }
            },
            {
              "data": {"values": [{}]},
              "mark": {"type": "text", "text": "β", "color": "#0000FF", "fontSize": 38, "align": "left", "baseline": "alphabetic"},
              "encoding": {
                "x": {"datum": 0.2636, "type": "quantitative", "scale": {"domain": [0, 1.2], "nice": false, "zero": false}, "axis": null},
                "y": {"datum": 1.35, "type": "quantitative", "scale": {"domain": [-0.145, 6.13], "nice": false, "zero": false}, "axis": null}
              }
            },
            {
              "data": {"values": [{}]},
              "mark": {"type": "text", "text": "N", "color": "#0000FF", "fontSize": 28, "align": "left", "baseline": "alphabetic"},
              "encoding": {
                "x": {"datum": 0.2942, "type": "quantitative", "scale": {"domain": [0, 1.2], "nice": false, "zero": false}, "axis": null},
                "y": {"datum": 1.135, "type": "quantitative", "scale": {"domain": [-0.145, 6.13], "nice": false, "zero": false}, "axis": null}
              }
            },
            {
              "data": {"values": [{}]},
              "mark": {"type": "text", "text": ">", "color": "#0000FF", "fontSize": 40, "align": "left", "baseline": "alphabetic"},
              "encoding": {
                "x": {"datum": 0.3398, "type": "quantitative", "scale": {"domain": [0, 1.2], "nice": false, "zero": false}, "axis": null},
                "y": {"datum": 1.35, "type": "quantitative", "scale": {"domain": [-0.145, 6.13], "nice": false, "zero": false}, "axis": null}
              }
            },
            {
              "data": {"values": [{}]},
              "mark": {"type": "text", "text": "β", "color": "#0000FF", "fontSize": 38, "align": "left", "baseline": "alphabetic"},
              "encoding": {
                "x": {"datum": 0.392, "type": "quantitative", "scale": {"domain": [0, 1.2], "nice": false, "zero": false}, "axis": null},
                "y": {"datum": 1.35, "type": "quantitative", "scale": {"domain": [-0.145, 6.13], "nice": false, "zero": false}, "axis": null}
              }
            },
            {
              "data": {"values": [{}]},
              "mark": {"type": "text", "text": "N (n=1)", "color": "#0000FF", "fontSize": 30, "align": "left", "baseline": "alphabetic"},
              "encoding": {
                "x": {"datum": 0.4306, "type": "quantitative", "scale": {"domain": [0, 1.2], "nice": false, "zero": false}, "axis": null},
                "y": {"datum": 1.135, "type": "quantitative", "scale": {"domain": [-0.145, 6.13], "nice": false, "zero": false}, "axis": null}
              }
            },
            {
              "data": {"values": [{}]},
              "mark": {"type": "text", "text": "no-wall", "color": "#0000FF", "fontSize": 30, "align": "left", "baseline": "alphabetic"},
              "encoding": {
                "x": {"datum": 0.433, "type": "quantitative", "scale": {"domain": [0, 1.2], "nice": false, "zero": false}, "axis": null},
                "y": {"datum": 1.82, "type": "quantitative", "scale": {"domain": [-0.145, 6.13], "nice": false, "zero": false}, "axis": null}
              }
            }
          ]
        },
        {
          "width": 850,
          "height": 238,
          "resolve": {"axis": {"x": "independent", "y": "independent"}},
          "layer": [
            {
              "data": {"name": "freq"},
              "transform": [{"filter": "datum.shot === '120663'"}],
              "mark": {"type": "line", "color": "#14A514", "strokeWidth": 3},
              "encoding": {
                "x": {"field": "t", "type": "quantitative", "scale": {"domain": [0, 1.2], "nice": false, "zero": false},
                  "axis": {"orient": "bottom", "values": [0, 0.05, 0.1, 0.15, 0.2, 0.25, 0.3, 0.35, 0.4, 0.45, 0.5, 0.55, 0.6, 0.65, 0.7, 0.75, 0.8, 0.85, 0.9, 0.95, 1, 1.05, 1.1, 1.15, 1.2], "tickSize": -5,
                    "labelExpr": "abs(datum.value * 5 - round(datum.value * 5)) < 0.001 ? format(datum.value, '.1f') : ''",
                    "labelFontSize": 44, "labelPadding": 30, "labelBaseline": "top",
                    "title": "t (s)", "titleFontSize": 48, "titleX": 438, "titleY": 124, "titleBaseline": "alphabetic", "titleAlign": "center"}},
                "y": {"field": "f", "type": "quantitative", "scale": {"domain": [0, 20], "nice": false, "zero": false},
                  "axis": {"orient": "left", "values": [0, 1, 2, 3, 4, 5, 6, 7, 8, 9, 10, 11, 12, 13, 14, 15, 16, 17, 18, 19, 20],
                    "labelExpr": "datum.value % 10 == 0 ? format(datum.value, 'd') : ''",
                    "tickSize": {"condition": {"test": "datum.value % 5 == 0", "value": -18}, "value": -10},
                    "labelFontSize": 44, "labelPadding": 33,
                    "title": "ωᵩ/2π (kHz)", "titleFontSize": 48, "titleAngle": 270, "titleX": -110, "titleY": 107, "titleBaseline": "alphabetic", "titleAlign": "center"}}
              }
            },
            {
              "data": {"name": "freq"},
              "transform": [{"filter": "datum.shot === '120652'"}],
              "mark": {"type": "line", "color": "#000000", "strokeWidth": 3},
              "encoding": {
                "x": {"field": "t", "type": "quantitative", "scale": {"domain": [0, 1.2], "nice": false, "zero": false},
                  "axis": {"orient": "top", "values": [0, 0.05, 0.1, 0.15, 0.2, 0.25, 0.3, 0.35, 0.4, 0.45, 0.5, 0.55, 0.6, 0.65, 0.7, 0.75, 0.8, 0.85, 0.9, 0.95, 1, 1.05, 1.1, 1.15, 1.2], "labels": false, "title": null, "tickSize": -5}},
                "y": {"field": "f", "type": "quantitative", "scale": {"domain": [0, 20], "nice": false, "zero": false},
                  "axis": {"orient": "right", "values": [0, 1, 2, 3, 4, 5, 6, 7, 8, 9, 10, 11, 12, 13, 14, 15, 16, 17, 18, 19, 20], "labels": false, "title": null,
                    "tickSize": {"condition": {"test": "datum.value % 5 == 0", "value": -16}, "value": -9}}}
              }
            },
            {
              "data": {"name": "freq"},
              "transform": [{"filter": "datum.shot === '120669'"}],
              "mark": {"type": "line", "color": "#FF0000", "strokeWidth": 3},
              "encoding": {
                "x": {"field": "t", "type": "quantitative", "scale": {"domain": [0, 1.2], "nice": false, "zero": false}, "axis": null},
                "y": {"field": "f", "type": "quantitative", "scale": {"domain": [0, 20], "nice": false, "zero": false}, "axis": null}
              }
            },
            {
              "data": {"values": [{}]},
              "mark": {"type": "text", "text": "Plasma rotation frequency at ρ = 0.7-0.8", "color": "#000000", "fontSize": 32, "align": "center", "baseline": "alphabetic"},
              "encoding": {
                "x": {"datum": 0.567, "type": "quantitative", "scale": {"domain": [0, 1.2], "nice": false, "zero": false}, "axis": null},
                "y": {"datum": 21.26, "type": "quantitative", "scale": {"domain": [0, 20], "nice": false, "zero": false}, "axis": null}
              }
            },
            {
              "data": {"values": [{}]},
              "mark": {"type": "text", "text": "R=130cm", "color": "#111111", "fontSize": 25, "fontWeight": "bold", "align": "left", "baseline": "middle"},
              "encoding": {
                "x": {"datum": 0.0612, "type": "quantitative", "scale": {"domain": [0, 1.2], "nice": false, "zero": false}, "axis": null},
                "y": {"datum": 17.44, "type": "quantitative", "scale": {"domain": [0, 20], "nice": false, "zero": false}, "axis": null}
              }
            },
            {
              "data": {"values": [{}]},
              "mark": {"type": "text", "text": "Rotating mode", "color": "#1C1CC8", "fontSize": 36, "fontWeight": "bold", "fontStyle": "italic", "align": "center", "baseline": "alphabetic"},
              "encoding": {
                "x": {"datum": 0.914, "type": "quantitative", "scale": {"domain": [0, 1.2], "nice": false, "zero": false}, "axis": null},
                "y": {"datum": 15.8, "type": "quantitative", "scale": {"domain": [0, 20], "nice": false, "zero": false}, "axis": null}
              }
            },
            {
              "data": {"values": [{}]},
              "mark": {"type": "text", "text": "onset", "color": "#1C1CC8", "fontSize": 36, "fontWeight": "bold", "fontStyle": "italic", "align": "center", "baseline": "alphabetic"},
              "encoding": {
                "x": {"datum": 0.915, "type": "quantitative", "scale": {"domain": [0, 1.2], "nice": false, "zero": false}, "axis": null},
                "y": {"datum": 12.2, "type": "quantitative", "scale": {"domain": [0, 20], "nice": false, "zero": false}, "axis": null}
              }
            },
            {
              "data": {"values": [{}]},
              "mark": {"type": "rule", "color": "#FF5A1F", "strokeWidth": 3},
              "encoding": {
                "x": {"datum": 0.819, "type": "quantitative", "scale": {"domain": [0, 1.2], "nice": false, "zero": false}, "axis": null},
                "y": {"datum": 13.08, "type": "quantitative", "scale": {"domain": [0, 20], "nice": false, "zero": false}, "axis": null},
                "x2": {"datum": 0.7414},
                "y2": {"datum": 10.73}
              }
            },
            {
              "data": {"values": [{}]},
              "mark": {"type": "point", "shape": "M1,0L-1,-0.8L-1,0.8Z", "filled": true, "opacity": 1, "color": "#FF5A1F", "size": 225, "angle": 152.9},
              "encoding": {
                "x": {"datum": 0.7414, "type": "quantitative", "scale": {"domain": [0, 1.2], "nice": false, "zero": false}, "axis": null},
                "y": {"datum": 10.73, "type": "quantitative", "scale": {"domain": [0, 20], "nice": false, "zero": false}, "axis": null}
              }
            }
          ]
        }
      ]
    }
  ]
}
